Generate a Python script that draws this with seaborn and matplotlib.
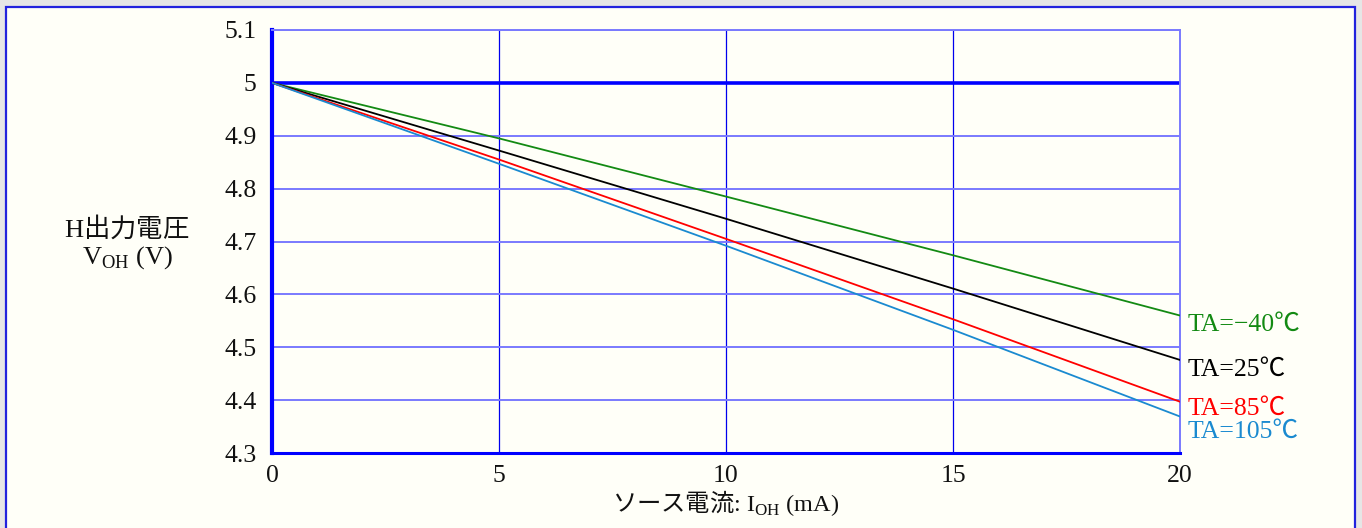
import pandas as pd
import numpy as np
import matplotlib.pyplot as plt
import seaborn as sns
from matplotlib.patches import Rectangle

# Data: source current vs. H output voltage
current = [0, 5, 10, 15, 20]
v_m40 = [5.0, 4.895, 4.785, 4.674, 4.560]
v_25 = [5.0, 4.872, 4.743, 4.611, 4.476]
v_85 = [5.0, 4.855, 4.705, 4.553, 4.397]
v_105 = [5.0, 4.847, 4.692, 4.533, 4.369]
labels = ["TA=\u221240\u2103", "TA=25\u2103", "TA=85\u2103", "TA=105\u2103"]
colors = ["#138a13", "#000000", "#ff0000", "#1a8ad0"]
label_offsets = [-9, -10, -7, -15]  # pixels, to keep the end labels apart

yticks = [4.3, 4.4, 4.5, 4.6, 4.7, 4.8, 4.9, 5.0, 5.1]
ytick_labels = ["4.3", "4.4", "4.5", "4.6", "4.7", "4.8", "4.9", "5", "5.1"]
xticks = [0, 5, 10, 15, 20]

sns.set_style("white")
plt.rcParams["font.family"] = ["Liberation Serif", "Noto Sans CJK JP"]
plt.rcParams["mathtext.fontset"] = "custom"
plt.rcParams["mathtext.rm"] = "Liberation Serif"
plt.rcParams["mathtext.sf"] = "Noto Sans CJK JP"

df = pd.DataFrame({
    "current": current * 4,
    "voltage": v_m40 + v_25 + v_85 + v_105,
    "temp": np.repeat(labels, len(current)),
})

cream = "#fffff8"
fs = 18.5
fig = plt.figure(figsize=(13.62, 5.28), dpi=100)
fig.patch.set_facecolor("#e6e6e6")
fig.add_artist(Rectangle((6 / 1362, -0.05), 1349 / 1362, (521 / 528) + 0.05,
                         transform=fig.transFigure, facecolor=cream,
                         edgecolor="#2222dd", lw=1.6, zorder=-10))

ax = fig.add_axes([272 / 1362, 1 - 453 / 528, 908 / 1362, 423 / 528])
ax.set_facecolor(cream)

ax.axhline(5.0, color="#0000ff", lw=2.6, zorder=1.5)
sns.lineplot(data=df, x="current", y="voltage", hue="temp", palette=colors,
             lw=1.3, legend=False, ax=ax, zorder=3)

ax.set_xlim(0, 20)
ax.set_ylim(4.3, 5.1)
ax.set_xticks(xticks)
ax.set_xticklabels([str(t) for t in xticks])
ax.set_yticks(yticks)
ax.set_yticklabels(ytick_labels)
ax.tick_params(axis="both", length=0, labelsize=fs, colors="#111111")
ax.tick_params(axis="y", pad=11)
ax.tick_params(axis="x", pad=9)
ax.set_axisbelow(True)
ax.grid(axis="y", color="#7a7aff", lw=1.4)
ax.grid(axis="x", color="#0000ee", lw=0.9)

for side in ["top", "right"]:
    ax.spines[side].set_color("#7a7aff")
    ax.spines[side].set_linewidth(1.4)
ax.spines["left"].set_color("#0000ff")
ax.spines["left"].set_linewidth(3)
ax.spines["bottom"].set_color("#0000ff")
ax.spines["bottom"].set_linewidth(2.2)

ax.set_xlabel("")
ax.set_ylabel("")

ends = [v_m40[-1], v_25[-1], v_85[-1], v_105[-1]]
for lab, col, yend, off in zip(labels, colors, ends, label_offsets):
    ax.annotate(lab, xy=(20, yend), xytext=(8, off), textcoords="offset pixels",
                ha="left", va="center", color=col, fontsize=fs,
                annotation_clip=False)

# axis titles
fig.text(127 / 1362, 1 - 227 / 528, r"H$\mathsf{出力電圧}$", ha="center",
         va="center", fontsize=19, color="#111111")
fig.text(127 / 1362, 1 - 258 / 528, r"V$_{\mathrm{OH}}$ (V)", ha="center",
         va="center", fontsize=19, color="#111111")
fig.text(726 / 1362, 1 - 503 / 528, r"$\mathsf{ソース電流}$: I$_{\mathrm{OH}}$ (mA)",
         ha="center", va="center", fontsize=17.5, color="#111111")

fig.savefig("out.png", dpi=100, facecolor=fig.get_facecolor())
